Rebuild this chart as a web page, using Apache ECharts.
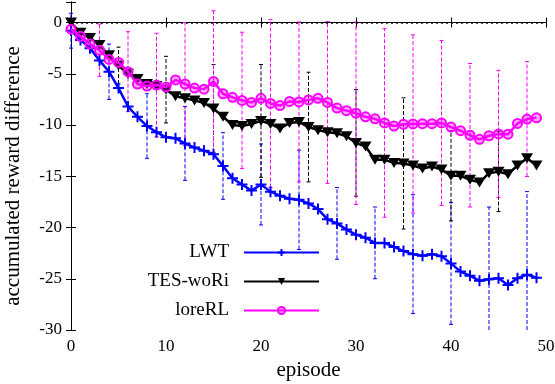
<!DOCTYPE html>
<html><head><meta charset="utf-8">
<script src="https://cdn.jsdelivr.net/npm/echarts@6/dist/echarts.min.js"></script>
<style>html,body{margin:0;padding:0;background:#fff}#c{width:555px;height:384px}</style>
</head><body><div id="c"></div>
<script>
const episodes = [0,1,2,3,4,5,6,7,8,9,10,11,12,13,14,15,16,17,18,19,20,21,22,23,24,25,26,27,28,29,30,31,32,33,34,35,36,37,38,39,40,41,42,43,44,45,46,47,48,49];
const seriesNames = ['LWT','TES-woRi','loreRL'];
const lwt = [-0.8,-1.7,-2.5,-3.7,-4.8,-6.4,-8.2,-9.2,-10.1,-10.7,
  -11.2,-11.3,-11.8,-12.2,-12.5,-12.85,-14.0,-15.2,-15.8,-16.4,
  -15.8,-16.5,-16.9,-17.2,-17.3,-17.65,-18.2,-19.2,-19.6,-20.2,
  -20.7,-21.0,-21.5,-21.5,-21.9,-22.3,-22.6,-22.75,-22.6,-22.8,
  -23.5,-24.3,-24.7,-25.2,-25.05,-24.95,-25.6,-24.95,-24.6,-24.9];
const tes = [0,-1.0,-1.5,-2.2,-3.2,-4.2,-5.0,-5.5,-6.0,-6.2,
  -6.55,-7.2,-7.4,-7.6,-7.85,-8.4,-9.2,-10.0,-10.1,-9.9,
  -9.6,-9.9,-10.35,-9.8,-9.7,-10.2,-10.5,-10.7,-10.8,-11.1,
  -11.75,-12.1,-13.4,-13.4,-13.7,-13.75,-13.95,-14.25,-14.05,-14.35,
  -14.95,-14.95,-15.35,-15.6,-14.7,-14.55,-14.8,-13.95,-13.25,-13.95];
const lore = [-0.65,-1.35,-2.1,-2.7,-3.6,-3.9,-4.8,-6.0,-6.2,-6.1,
  -6.3,-5.6,-6.0,-6.4,-6.5,-5.75,-6.95,-7.3,-7.6,-7.8,
  -7.4,-7.9,-8.1,-7.7,-7.75,-7.55,-7.4,-7.8,-8.35,-8.6,
  -8.85,-9.2,-9.4,-9.8,-10.1,-9.93,-9.9,-9.87,-9.87,-9.8,
  -10.2,-10.55,-11.0,-11.4,-11.05,-10.87,-10.9,-9.85,-9.42,-9.3];
const lwtErrEpisodes = [0,4,8,12,16,20,24,28,32,36,40,44,48];
const lwtErr = [1.7,2.7,3.15,3.6,3.25,3.95,4.85,3.5,3.5,5.8,5.95,7.05,8.1];
const tesErrEpisodes = [5,10,15,20,25,30,35,40,45];
const tesErr = [1.8,3.25,4.3,5.5,5.35,5.2,6.4,4.4,3.9];
const loreErrEpisodes = [3,6,9,12,15,18,21,24,27,30,33,36,39,42,45,48];
const loreErr = [2.55,3.9,5.05,6.0,6.9,6.65,8.2,7.8,7.9,8.9,9.2,8.7,8.05,7.0,6.2,5.6];
const xTicks = [0,10,20,30,40,50];
const yTicks = [-30,-25,-20,-15,-10,-5,0];

const FONT = 'Liberation Serif';
const Y_MIN = -30, Y_MAX = 2;
const colors = ['#0000ff','#000000','#ff00ff'];

function pairs(vals){ return episodes.map((e,i)=>[e, vals[i]]); }

function errSeries(color, eps, vals, errs){
  const data = eps.map((e,i)=>[e, vals[e]-errs[i], vals[e]+errs[i]]);
  return {
    type:'custom', silent:true, z:1,
    encode:{x:0, y:[1,2]},
    data,
    renderItem(params, api){
      const x = api.value(0), lo = api.value(1), hi = api.value(2);
      const loC = Math.max(lo, Y_MIN), hiC = Math.min(hi, Y_MAX);
      const pLo = api.coord([x, loC]);
      const pHi = api.coord([x, hiC]);
      const cap = 2;
      const st = {stroke:color, lineWidth:1};
      const children = [{type:'line', shape:{x1:pLo[0],y1:pLo[1],x2:pHi[0],y2:pHi[1]}, style:{stroke:color, lineWidth:1, lineDash:[4,2]}}];
      if (lo >= Y_MIN) children.push({type:'line', shape:{x1:pLo[0]-cap,y1:pLo[1],x2:pLo[0]+cap,y2:pLo[1]}, style:st});
      if (hi <= Y_MAX) children.push({type:'line', shape:{x1:pHi[0]-cap,y1:pHi[1],x2:pHi[0]+cap,y2:pHi[1]}, style:st});
      return {type:'group', children};
    }
  };
}

const chart = echarts.init(document.getElementById('c'), null, {renderer:'canvas'});
const legendBase = (name, top) => ({
  data:[name], orient:'vertical', right:235, top, align:'right', padding:0,
  itemWidth:75, itemHeight:9, selectedMode:false,
  textStyle:{fontFamily:FONT, fontSize:19, color:'#000', padding:[0,10,0,0]}
});
const axisCommon = {
  type:'value', axisLine:{show:true, lineStyle:{color:'#000', width:1}},
  axisTick:{show:true, inside:true, length:5, lineStyle:{color:'#000'}},
  splitLine:{show:false}
};
chart.setOption({
  animation:false,
  backgroundColor:'#fff',
  grid:{left:71, right:9, top:2, bottom:54, outerBoundsMode:'none', containLabel:false},
  legend:[legendBase(seriesNames[0], 243), legendBase(seriesNames[1], 272), legendBase(seriesNames[2], 301)],
  xAxis:[
    Object.assign({}, axisCommon, {min:0, max:50, interval:10, position:'bottom',
      name:'episode', nameLocation:'middle', nameGap:23,
      nameTextStyle:{fontFamily:FONT, fontSize:21, color:'#000'},
      axisLabel:{fontFamily:FONT, fontSize:17, color:'#000', margin:8,
        formatter:v => xTicks.includes(v) ? String(v) : ''}}),
    Object.assign({}, axisCommon, {min:0, max:50, interval:10, position:'top', axisLabel:{show:false}})
  ],
  yAxis:[
    Object.assign({}, axisCommon, {min:Y_MIN, max:Y_MAX, interval:5, position:'left',
      name:'accumulated reward difference', nameLocation:'middle', nameGap:47, nameRotate:90,
      nameTextStyle:{fontFamily:FONT, fontSize:21, color:'#000', padding:[0,20,0,0]},
      axisLabel:{fontFamily:FONT, fontSize:17, color:'#000', margin:9,
        formatter:v => yTicks.includes(v) ? String(v) : ''}}),
    Object.assign({}, axisCommon, {min:Y_MIN, max:Y_MAX, interval:5, position:'right', axisLabel:{show:false}})
  ],
  series:[
    errSeries(colors[0], lwtErrEpisodes, lwt, lwtErr),
    errSeries(colors[1], tesErrEpisodes, tes, tesErr),
    errSeries(colors[2], loreErrEpisodes, lore, loreErr),
    {type:'line', name:seriesNames[0], data:pairs(lwt), z:3,
      symbol:'path://M5,0L5,10M0,5L10,5', symbolSize:11,
      lineStyle:{color:colors[0], width:2.5},
      itemStyle:{color:colors[0], borderColor:colors[0], borderWidth:2},
      markLine:{silent:true, symbol:'none', label:{show:false},
        lineStyle:{color:'#000', type:[2,3], width:1.5}, data:[{yAxis:0}]}},
    {type:'line', name:seriesNames[1], data:pairs(tes), z:4,
      symbol:'triangle', symbolRotate:180, symbolSize:[12,10],
      lineStyle:{color:colors[1], width:2.5},
      itemStyle:{color:colors[1]}},
    {type:'line', name:seriesNames[2], data:pairs(lore), z:5,
      symbol:'circle', symbolSize:9,
      lineStyle:{color:colors[2], width:2.5},
      itemStyle:{color:'rgba(255,0,255,0.3)', borderColor:colors[2], borderWidth:2}}
  ]
});
</script></body></html>
